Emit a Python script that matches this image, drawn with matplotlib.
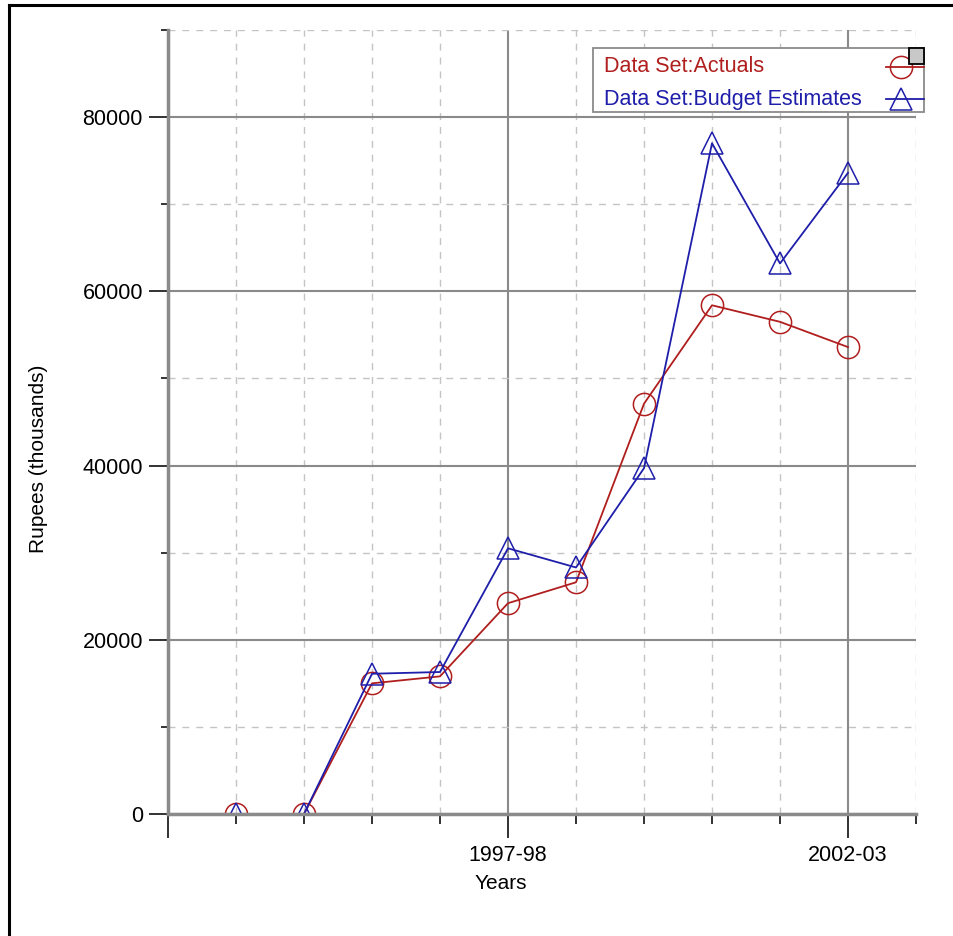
import matplotlib
matplotlib.use("Agg")
import matplotlib.pyplot as plt
from matplotlib.lines import Line2D
from matplotlib.patches import Rectangle
from matplotlib.ticker import MultipleLocator, FixedLocator

# data
years = ['1993-94', '1994-95', '1995-96', '1996-97', '1997-98',
         '1998-99', '1999-00', '2000-01', '2001-02', '2002-03']
actuals = [0, 0, 15000, 15800, 24200, 26600, 47100, 58400, 56500, 53600]
budget = [0, 0, 16100, 16300, 30500, 28300, 39700, 77000, 63200, 73600]
labelled_years = ['1997-98', '2002-03']

red = '#b01e1e'
blue = '#1e1eaa'

plt.rcParams.update({
    "font.family": ["Liberation Sans", "DejaVu Sans"],
    "font.size": 15,
})

W, H = 954, 936
fig = plt.figure(figsize=(W / 100, H / 100), dpi=100)
ax = fig.add_axes([168 / W, 1 - 814 / H, 748 / W, 784 / H])

x = list(range(len(years)))
ax.plot(x, actuals, color=red, lw=1.3, marker='o', ms=16, mfc='none',
        mec=red, mew=1.1)
ax.plot(x, budget, color=blue, lw=1.3, marker='^', ms=16, mfc='none',
        mec=blue, mew=1.1)

ax.set_xlim(-1, 10)
ax.set_ylim(0, 90000)

# major ticks every five years, minor every year
major_pos = [-1] + [years.index(y) for y in labelled_years]
ax.xaxis.set_major_locator(FixedLocator(major_pos))
ax.set_xticklabels([''] + labelled_years)
ax.xaxis.set_minor_locator(MultipleLocator(1))
ax.yaxis.set_major_locator(MultipleLocator(20000))
ax.yaxis.set_minor_locator(MultipleLocator(10000))

ax.tick_params(axis='x', which='major', direction='out', length=17, width=1.3,
               color='#222222', pad=5, labelsize=15.5)
ax.tick_params(axis='x', which='minor', direction='out', length=7, width=1.3,
               color='#222222')
ax.tick_params(axis='y', which='major', direction='out', length=14, width=1.3,
               color='#222222', pad=4, labelsize=15.5)
ax.tick_params(axis='y', which='minor', direction='out', length=5, width=1.3,
               color='#222222')

ax.grid(True, which='major', color='#8a8a8a', lw=1.5, ls='-')
ax.grid(True, which='minor', color='#c4c4c4', lw=1.0, ls=(0, (5, 5)))
ax.set_axisbelow(True)

for side in ['top', 'right']:
    ax.spines[side].set_visible(False)
for side in ['left', 'bottom']:
    ax.spines[side].set_color('#8a8a8a')
    ax.spines[side].set_linewidth(2.5)

ax.set_xlabel('Years', fontsize=15)
ax.xaxis.set_label_coords((501 - 168) / 748, -(874 - 814) / 784)
ax.set_ylabel('Rupees (thousands)', fontsize=15)
ax.yaxis.set_label_coords(-(168 - 48) / 748, (814 - 459) / 784)

# legend drawn by hand: text left-aligned, symbols at the right edge
def fx(px):
    return px / W

def fy(py):
    return 1 - py / H

fig.add_artist(Rectangle((fx(593), fy(112)), fx(924) - fx(593), fy(48) - fy(112),
                         transform=fig.transFigure, facecolor='white',
                         edgecolor='#8a8a8a', lw=1.3, zorder=8))
legend_rows = [('Data Set:Actuals', red, 'o', 67),
               ('Data Set:Budget Estimates', blue, '^', 99)]
for text, col, mk, py in legend_rows:
    fig.text(fx(604), fy(py), text, color=col, fontsize=15.5, ha='left',
             va='center', zorder=9)
    fig.add_artist(Line2D([fx(886), fx(924)], [fy(py), fy(py)],
                          transform=fig.transFigure, color=col, lw=1.3, zorder=9))
    fig.add_artist(Line2D([fx(901)], [fy(py)], transform=fig.transFigure,
                          marker=mk, ms=16, mfc='none', mec=col, mew=1.1,
                          ls='none', zorder=9))

# small grey box in the legend corner
fig.add_artist(Rectangle((fx(909), fy(64)), fx(924) - fx(909), fy(48) - fy(64),
                         transform=fig.transFigure, facecolor='#c8c8c8',
                         edgecolor='black', lw=1.3, zorder=10))

# outer frame (left and top edges visible)
fig.add_artist(Line2D([fx(9), fx(9)], [0, fy(5)],
                      transform=fig.transFigure, color='black', lw=2.2))
fig.add_artist(Line2D([fx(9), 1], [fy(5), fy(5)],
                      transform=fig.transFigure, color='black', lw=2.2))

fig.savefig('out.png', dpi=100)
